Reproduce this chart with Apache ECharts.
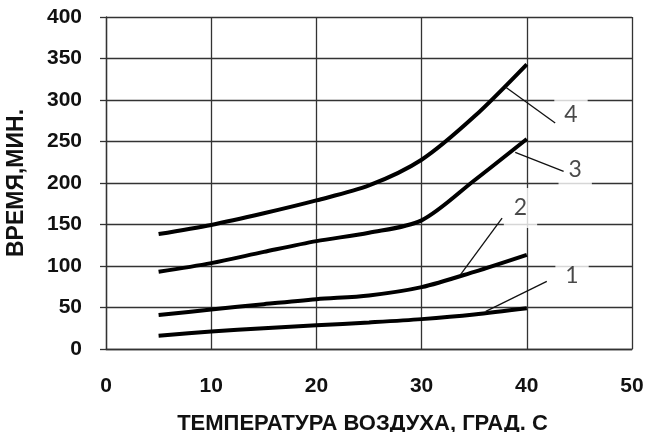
<!DOCTYPE html>
<html>
<head>
<meta charset="utf-8">
<script src="https://cdn.jsdelivr.net/npm/echarts@6/dist/echarts.min.js"></script>
<style>
html,body{margin:0;padding:0;background:#fff;}
#chart{width:645px;height:432px;}
</style>
</head>
<body>
<div id="chart"></div>
<script>
// ---- data ----
var temps = [5, 10, 15, 20, 25, 30, 35, 40];
var curve1 = [16, 21, 25, 28.5, 32, 36, 41.5, 49];
var curve2 = [41, 47.5, 54, 60, 64.5, 74.5, 93, 113.5];
var curve3 = [93, 103.5, 117, 130, 140, 155, 203, 253];
var curve4 = [138.5, 149.5, 163.5, 179, 197, 228, 280, 343];
var xTicks = [0, 10, 20, 30, 40, 50];
var yTicks = [0, 50, 100, 150, 200, 250, 300, 350, 400];
var xTitle = 'ТЕМПЕРАТУРА ВОЗДУХА, ГРАД. С';
var yTitle = 'ВРЕМЯ,МИН.';
// curve number labels (data coords) and leader lines
var labelNames = ['1', '2', '3', '4'];
var labelX = [44.3, 39.4, 44.6, 44.2];
var labelY = [88, 170, 216, 282];
var leader1 = [[36.1, 45.3], [41.9, 81.4]];
var leader2 = [[33.7, 89.5], [37.65, 157.8]];
var leader3 = [[38.9, 236.9], [43.5, 214]];
var leader4 = [[37.97, 315.7], [42.7, 272.3]];

function pairs(xs, ys) { return xs.map(function (x, i) { return [x, ys[i]]; }); }

var curves = [curve1, curve2, curve3, curve4];
var leaders = [leader1, leader2, leader3, leader4];
var series = [];
curves.forEach(function (c, i) {
  series.push({
    type: 'line', name: 'curve' + (i + 1), data: pairs(temps, c),
    smooth: 0.3, symbol: 'none', z: 5,
    lineStyle: { color: '#000', width: 4 }
  });
});
series.push({
  type: 'scatter', name: 'labels', z: 6,
  data: labelNames.map(function (n, i) { return { value: [labelX[i], labelY[i]], name: n }; }),
  symbolSize: 1, itemStyle: { color: 'rgba(0,0,0,0)' },
  label: {
    show: true, position: 'inside', formatter: '{b}',
    fontFamily: 'Lato', fontSize: 23, color: '#1a1a1a',
    backgroundColor: '#fff', padding: [8, 10], lineHeight: 24
  }
});
leaders.forEach(function (l, i) {
  series.push({
    type: 'line', name: 'leader' + (i + 1), data: l, symbol: 'none', z: 7,
    lineStyle: { color: '#111', width: 1.3 }
  });
});

var chart = echarts.init(document.getElementById('chart'), null, { renderer: 'canvas' });
chart.setOption({
  animation: false,
  backgroundColor: '#fff',
  grid: { left: 106, right: 13, top: 17, bottom: 83, containLabel: false, outerBoundsMode: 'none' },
  xAxis: {
    type: 'value', min: xTicks[0], max: xTicks[xTicks.length - 1], interval: 10,
    name: xTitle, nameLocation: 'middle', nameGap: 64,
    nameTextStyle: { fontFamily: 'Liberation Sans', fontWeight: 'bold', fontSize: 22, color: '#111', padding: [0, 13, 0, 0] },
    axisLine: { show: true, lineStyle: { color: '#333', width: 1.3 } },
    axisTick: { show: false },
    axisLabel: { margin: 27, fontFamily: 'Liberation Sans', fontWeight: 'bold', fontSize: 21, color: '#111' },
    splitLine: { show: true, lineStyle: { color: '#333', width: 1.3 } }
  },
  yAxis: {
    type: 'value', min: yTicks[0], max: yTicks[yTicks.length - 1], interval: 50,
    name: yTitle, nameLocation: 'middle', nameGap: 78, nameRotate: 90,
    nameTextStyle: { fontFamily: 'Liberation Sans', fontWeight: 'bold', fontSize: 23, color: '#111' },
    axisLine: { show: true, lineStyle: { color: '#333', width: 1.3 } },
    axisTick: { show: true, inside: false, length: 6, lineStyle: { color: '#333', width: 1.3 } },
    axisLabel: { margin: 24, fontFamily: 'Liberation Sans', fontWeight: 'bold', fontSize: 21, color: '#111' },
    splitLine: { show: true, lineStyle: { color: '#333', width: 1.3 } }
  },
  series: series
});
</script>
</body>
</html>
